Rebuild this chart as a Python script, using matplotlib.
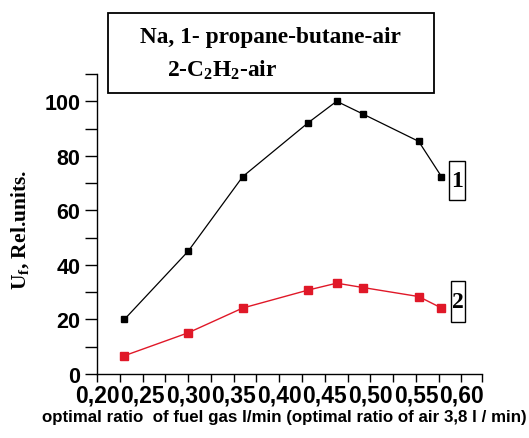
import matplotlib
matplotlib.use("Agg")
import matplotlib.pyplot as plt
from matplotlib.patches import Rectangle
from matplotlib.ticker import MultipleLocator, FixedLocator

plt.rcParams['mathtext.fontset'] = 'custom'
plt.rcParams['mathtext.rm'] = 'Liberation Serif:bold'
plt.rcParams['mathtext.bf'] = 'Liberation Serif:bold'
plt.rcParams['mathtext.it'] = 'Liberation Serif:bold'

# data
fuel_ratio = [0.23, 0.30, 0.36, 0.432, 0.463, 0.492, 0.553, 0.578]
propane_butane = [20, 45, 72.4, 92.2, 100, 95.3, 85.3, 72.4]
acetylene = [6.7, 15.1, 24.2, 30.8, 33.3, 31.7, 28.4, 24.2]
x_tick_values = [0.20, 0.25, 0.30, 0.35, 0.40, 0.45, 0.50, 0.55, 0.60]
x_tick_labels = ["0,20", "0,25", "0,30", "0,35", "0,40", "0,45", "0,50", "0,55", "0,60"]
y_tick_values = [0, 20, 40, 60, 80, 100]

W, H = 529, 439
fig = plt.figure(figsize=(W / 100, H / 100), dpi=100)
ax = fig.add_axes([97 / W, 1 - 375 / H, (482 - 97) / W, (375 - 75) / H])

ax.plot(fuel_ratio, propane_butane, color='black', lw=0.9, marker='s', ms=4.5,
        mfc='black', mec='black')
ax.plot(fuel_ratio, acetylene, color='#e01828', lw=1.0, marker='s', ms=5.5,
        mfc='#e01828', mec='#e01828')

ax.set_xlim(0.20, 0.6225)
ax.set_ylim(0, 110)
ax.spines['top'].set_visible(False)
ax.spines['right'].set_visible(False)
for s in ('left', 'bottom'):
    ax.spines[s].set_linewidth(1.0)

ax.set_xticks(x_tick_values)
ax.set_xticklabels(x_tick_labels, fontfamily='Liberation Sans', fontweight='bold', fontsize=16.5)
ax.xaxis.set_minor_locator(FixedLocator([0.225, 0.275, 0.325, 0.375, 0.425, 0.475, 0.525, 0.575, 0.6225]))
ax.set_yticks(y_tick_values)
ax.set_yticklabels([str(v) for v in y_tick_values], fontfamily='Liberation Sans', fontweight='bold', fontsize=15.5)
ax.yaxis.set_minor_locator(MultipleLocator(10))
ax.tick_params(axis='x', which='both', direction='out', length=6, width=1.0, pad=1)
ax.tick_params(axis='y', which='both', direction='out', length=9, width=1.0, pad=3)

# axis labels
fig.text(284 / W, 1 - 418 / H,
         "optimal ratio  of fuel gas l/min (optimal ratio of air 3,8 l / min)",
         ha='center', va='center', fontfamily='Liberation Sans', fontweight='heavy',
         fontsize=12.2)
fig.text(20 / W, 1 - 230 / H, r"U$_{f}$, Rel.units.", rotation=90, ha='center', va='center',
         fontfamily='Liberation Serif', fontweight='bold', fontsize=15.5)

# title box
fig.patches.append(Rectangle((108 / W, 1 - 94 / H), (434 - 108) / W, (94 - 14) / H,
                             transform=fig.transFigure, fill=False, ec='black', lw=1.3))
fig.text(140 / W, 1 - 38 / H, "Na, 1- propane-butane-air", ha='left', va='center',
         fontfamily='Liberation Serif', fontweight='bold', fontsize=16.8)
fig.text(167 / W, 1 - 70 / H, r"2-C$_2$H$_2$-air", ha='left', va='center',
         fontfamily='Liberation Serif', fontweight='bold', fontsize=16.8)

# series labels
for (x0, x1, y0, y1, t) in [(449, 465, 162, 201, "1"), (451, 465, 282, 323, "2")]:
    fig.patches.append(Rectangle((x0 / W, 1 - y1 / H), (x1 - x0) / W, (y1 - y0) / H,
                                 transform=fig.transFigure, fill=False, ec='black', lw=1.0))
    fig.text((x0 + x1) / 2 / W, 1 - (y0 + y1) / 2 / H, t, ha='center', va='center',
             fontfamily='Liberation Serif', fontweight='bold', fontsize=17)

fig.savefig("out.png", dpi=100)
